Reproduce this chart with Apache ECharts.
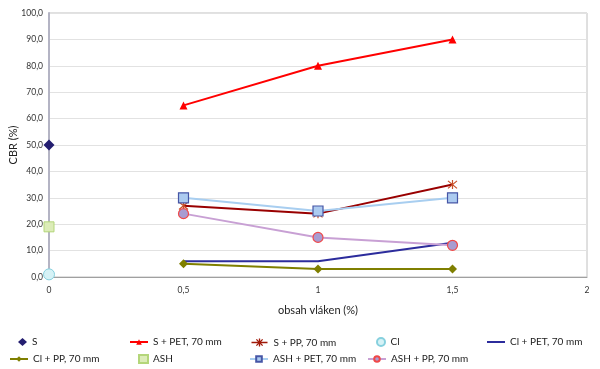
<!DOCTYPE html>
<html><head><meta charset="utf-8">
<script src="https://cdn.jsdelivr.net/npm/echarts@6/dist/echarts.min.js"></script>
<style>html,body{margin:0;padding:0;background:#fff}#c{width:600px;height:369px}</style>
</head><body><div id="c"></div>
<script>
const fiberX = [0.5, 1, 1.5];
const sValue = 50;
const clValue = 1;
const ashValue = 19;
const sPet = [65, 80, 90];
const sPp = [27, 24, 35];
const clPet = [6, 6, 13];
const clPp = [5, 3, 3];
const ashPet = [30, 25, 30];
const ashPp = [24, 15, 12];
const xTicks = [0, 0.5, 1, 1.5, 2];
const yTicks = [0, 10, 20, 30, 40, 50, 60, 70, 80, 90, 100];

const pts = arr => fiberX.map((x, i) => [x, arr[i]]);
const FONT = 'Lato';
const star = 'path://M0,0L10,10M10,0L0,10M5,-1L5,11';

const series = [
  {name:'S', type:'scatter', data:[[0, sValue]], symbol:'diamond', symbolSize:11,
   itemStyle:{color:'#241e70', opacity:1}},
  {name:'S + PET, 70 mm', type:'line', data:pts(sPet), symbol:'triangle', symbolSize:8,
   itemStyle:{color:'#ff0000'}, lineStyle:{color:'#ff0000', width:2}},
  {name:'S + PP, 70 mm', type:'line', data:pts(sPp), symbol:star, symbolSize:9,
   itemStyle:{color:'#c8502a', borderColor:'#c8502a', borderWidth:1.2},
   lineStyle:{color:'#990000', width:2}},
  {name:'Cl', type:'scatter', data:[[0, clValue]], symbol:'circle', symbolSize:11,
   itemStyle:{color:'#d6f2f6', borderColor:'#86d0de', borderWidth:1, opacity:1}},
  {name:'Cl + PET, 70 mm', type:'line', data:pts(clPet), symbol:'none',
   itemStyle:{color:'#2c2c9c'}, lineStyle:{color:'#2c2c9c', width:2}},
  {name:'Cl + PP, 70 mm', type:'line', data:pts(clPp), symbol:'diamond', symbolSize:9,
   itemStyle:{color:'#7f7f00'}, lineStyle:{color:'#7f7f00', width:2}},
  {name:'ASH', type:'scatter', data:[[0, ashValue]], symbol:'rect', symbolSize:10,
   itemStyle:{color:'#dcecb8', borderColor:'#b4d67a', borderWidth:1, opacity:1}},
  {name:'ASH + PET, 70 mm', type:'line', data:pts(ashPet), symbol:'rect', symbolSize:10,
   itemStyle:{color:'#accbf0', borderColor:'#4656a6', borderWidth:1.2},
   lineStyle:{color:'#a8cef0', width:2}},
  {name:'ASH + PP, 70 mm', type:'line', data:pts(ashPp), symbol:'circle', symbolSize:10,
   itemStyle:{color:'#a89cd2', borderColor:'#f04848', borderWidth:1.2},
   lineStyle:{color:'#c8a0d4', width:2}}
];

// legend layout: 5 columns, 2 rows
const colText = [32, 152, 272, 390, 510];
const rowTop = [336, 353];
const legends = series.map((s, i) => {
  const col = i % 5, row = Math.floor(i / 5);
  const isScatter = s.type === 'scatter';
  const iw = isScatter ? 9 : 18;
  let item = {name: s.name};
  let ih = isScatter ? 8 : 7;
  if (s.name === 'Cl + PET, 70 mm') {
    item.icon = 'rect'; ih = 2;
  } else if (s.name === 'S + PP, 70 mm') {
    item.icon = 'path://M0,5L18,5M5.5,1.5L12.5,8.5M12.5,1.5L5.5,8.5M9,0.5L9,9.5';
    item.itemStyle = {color:'none', borderColor:'#a01808', borderWidth:1.3};
    ih = 8;
  }
  const lg = {
    data:[item], left: colText[col] - 5 - iw, top: rowTop[row],
    itemWidth: iw, itemHeight: ih, padding:0,
    textStyle:{fontFamily:FONT, fontSize:10, color:'#222', lineHeight:12}
  };
  return lg;
});

const chart = echarts.init(document.getElementById('c'));
chart.setOption({
  animation:false,
  backgroundColor:'#fff',
  grid:{left:49, right:13, top:13, bottom:92, containLabel:false, outerBoundsMode:'none',
        show:true, borderColor:'#c0c0c0', borderWidth:1},
  legend: legends,
  xAxis:{type:'value', min:xTicks[0], max:xTicks[xTicks.length-1], interval:0.5,
    name:'obsah vláken (%)', nameLocation:'middle', nameGap:28, nameMoveOverlap:false,
    nameTextStyle:{fontFamily:FONT, fontSize:11, color:'#222'},
    axisLine:{show:true, lineStyle:{color:'#a0a0a0', width:1}},
    axisTick:{show:false}, splitLine:{show:false},
    axisLabel:{fontFamily:FONT, fontSize:8.5, color:'#333', margin:9,
      formatter:v => String(v).replace('.', ',')}},
  yAxis:{type:'value', min:yTicks[0], max:yTicks[yTicks.length-1], interval:10,
    name:'CBR (%)', nameLocation:'middle', nameGap:30, nameMoveOverlap:false,
    nameTextStyle:{fontFamily:FONT, fontSize:11, color:'#222'},
    axisLine:{show:true, lineStyle:{color:'#b4b4c4', width:2}},
    axisTick:{show:false},
    splitLine:{lineStyle:{color:'#e2e2e2', width:1}},
    axisLabel:{fontFamily:FONT, fontSize:8.5, color:'#333', margin:6,
      formatter:v => v.toFixed(1).replace('.', ',')}},
  series: series
});
</script></body></html>
